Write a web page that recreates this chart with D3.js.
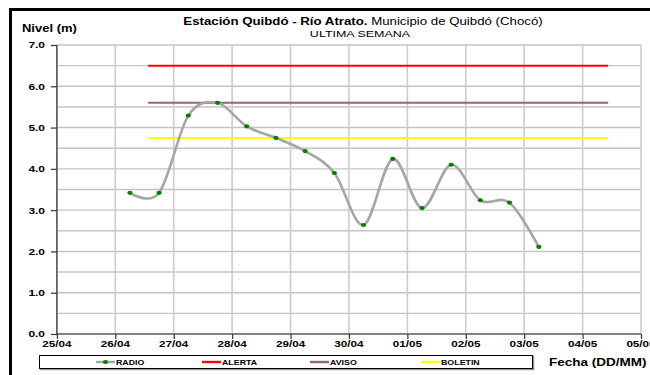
<!DOCTYPE html>
<html>
<head>
<meta charset="utf-8">
<script src="https://cdn.jsdelivr.net/npm/d3@7"></script>
<style>
  html, body { margin: 0; padding: 0; background: #fff; }
  svg { display: block; font-family: "Liberation Sans", Arial, sans-serif; }
</style>
</head>
<body>
<svg id="chart" width="650" height="375"></svg>
<script>
// River level readings (m), one every 12 hours
const fechas = [
  "26/04 06:00", "26/04 18:00", "27/04 06:00", "27/04 18:00", "28/04 06:00",
  "28/04 18:00", "29/04 06:00", "29/04 18:00", "30/04 06:00", "30/04 18:00",
  "01/05 06:00", "01/05 18:00", "02/05 06:00", "02/05 18:00", "03/05 06:00"
];
const radio = [3.42, 3.42, 5.29, 5.60, 5.03, 4.75, 4.43, 3.90, 2.64, 4.24, 3.05, 4.10, 3.24, 3.18, 2.11];

// Warning thresholds (m) and the span over which they are drawn
const umbrales = ["ALERTA", "AVISO", "BOLETIN"];
const umbralValores = [6.5, 5.6, 4.75];
const umbralColores = ["#ff0000", "#996666", "#ffff00"];
const umbralDesde = "26/04 13:30";
const umbralHasta = "04/05 10:30";

// Axis extents and tick labels
const ejeXDesde = "25/04 00:00";
const ejeXHasta = "05/05 00:00";
const ticksX = ["25/04", "26/04", "27/04", "28/04", "29/04", "30/04", "01/05", "02/05", "03/05", "04/05", "05/05"];
const ticksY = [0, 1, 2, 3, 4, 5, 6, 7];
const gridY = [0, 0.5, 1, 1.5, 2, 2.5, 3, 3.5, 4, 4.5, 5, 5.5, 6, 6.5, 7];

const titulo1 = "Estación Quibdó - Río Atrato.";
const titulo2 = " Municipio de Quibdó (Chocó)";
const subtitulo = "ULTIMA SEMANA";

const YEAR = "2014";
const parse = d3.timeParse("%d/%m/%Y %H:%M");
const toDate = s => parse(s.split(" ")[0] + "/" + YEAR + " " + s.split(" ")[1]);
const tickDate = s => parse(s + "/" + YEAR + " 00:00");

const SX = 1.3; // horizontal stretch of all lettering
const svg = d3.select("#chart");

const x = d3.scaleTime().domain([toDate(ejeXDesde), toDate(ejeXHasta)]).range([56.9, 641]);
const y = d3.scaleLinear().domain([0, 7]).range([334, 45]);

function label(g, px, py, txt, size, weight, anchor) {
  return g.append("text")
    .attr("transform", `translate(${px},${py}) scale(${SX},1)`)
    .attr("text-anchor", anchor || "middle")
    .attr("dominant-baseline", "central")
    .attr("font-size", size)
    .attr("font-weight", weight || "bold")
    .attr("fill", "#000")
    .text(txt);
}

// outer frame
svg.append("rect").attr("x", 10.5).attr("y", 9.5).attr("width", 700).attr("height", 500)
  .attr("fill", "#fff").attr("stroke", "#000").attr("stroke-width", 3);

// gridlines
const grid = svg.append("g");
grid.selectAll("line.h").data(gridY).join("line")
  .attr("x1", x.range()[0]).attr("x2", x.range()[1])
  .attr("y1", d => y(d)).attr("y2", d => y(d))
  .attr("stroke", "#c4c4c4").attr("stroke-width", 1.4);
grid.selectAll("line.v").data(ticksX).join("line")
  .attr("x1", d => x(tickDate(d))).attr("x2", d => x(tickDate(d)))
  .attr("y1", y(7)).attr("y2", y(0))
  .attr("stroke", "#cccccc").attr("stroke-width", 1.6);

// thresholds
const lineas = svg.append("g");
umbrales.forEach((u, i) => {
  lineas.append("line")
    .attr("x1", x(toDate(umbralDesde))).attr("x2", x(toDate(umbralHasta)))
    .attr("y1", y(umbralValores[i])).attr("y2", y(umbralValores[i]))
    .attr("stroke", umbralColores[i]).attr("stroke-width", 2);
});

// axes
const axY = svg.append("g").attr("transform", `translate(${x.range()[0]},0)`)
  .call(d3.axisLeft(y).tickValues(ticksY).tickSize(6).tickFormat(""));
const axX = svg.append("g").attr("transform", `translate(0,${y(0)})`)
  .call(d3.axisBottom(x).tickValues(ticksX.map(tickDate)).tickSize(5).tickFormat(""));
[axY, axX].forEach(a => {
  a.select(".domain").attr("stroke", "#333").attr("stroke-width", 1.2);
  a.selectAll(".tick line").attr("stroke", "#333").attr("stroke-width", 1.2);
});
axX.select(".domain").attr("d", `M${x.range()[0]},0H${x.range()[1]}`);
axY.select(".domain").attr("d", `M0,${y(7)}V${y(0)}`);

const txt = svg.append("g");
ticksY.forEach(v => label(txt, 45, y(v), d3.format(".1f")(v), 9.2, "bold", "end"));
ticksX.forEach(t => label(txt, x(tickDate(t)), 343.5, t, 9, "bold"));

// level series
const pts = fechas.map((f, i) => [x(toDate(f)), y(radio[i])]);
svg.append("path")
  .attr("d", d3.line().curve(d3.curveCardinal.tension(0))(pts))
  .attr("fill", "none").attr("stroke", "#a6a6a6").attr("stroke-width", 2.6);
svg.append("g").selectAll("ellipse").data(pts).join("ellipse")
  .attr("cx", d => d[0]).attr("cy", d => d[1]).attr("rx", 2.6).attr("ry", 2.1)
  .attr("fill", "#008000");

// titles
const t = svg.append("text")
  .attr("transform", `translate(363,22) scale(${SX},1)`)
  .attr("text-anchor", "middle").attr("dominant-baseline", "central")
  .attr("font-size", 10.2);
t.append("tspan").attr("font-weight", "bold").text(titulo1);
t.append("tspan").attr("font-weight", "normal").text(titulo2);
label(txt, 360, 34, subtitulo, 9.6, "normal");
label(txt, 22, 29, "Nivel (m)", 10, "bold", "start");
label(txt, 549, 362.5, "Fecha (DD/MM)", 10.4, "bold", "start");

// legend
const leg = svg.append("g");
leg.append("rect").attr("x", 40.5).attr("y", 356.5).attr("width", 493).attr("height", 13)
  .attr("fill", "none").attr("stroke", "#999").attr("stroke-width", 1.5);
leg.append("rect").attr("x", 39.5).attr("y", 355.5).attr("width", 493).attr("height", 13)
  .attr("fill", "#fff").attr("stroke", "#000").attr("stroke-width", 1);
const legNames = ["RADIO"].concat(umbrales);
const legColors = ["#a6a6a6"].concat(umbralColores);
const legX = [96, 202, 310, 421];
legNames.forEach((n, i) => {
  leg.append("line").attr("x1", legX[i]).attr("x2", legX[i] + 19)
    .attr("y1", 362).attr("y2", 362).attr("stroke", legColors[i]).attr("stroke-width", 2.4);
  if (i === 0) leg.append("ellipse").attr("cx", legX[i] + 9.5).attr("cy", 362)
    .attr("rx", 2.6).attr("ry", 2.1).attr("fill", "#008000");
  label(leg, legX[i] + 20, 362.5, n, 6.8, "bold", "start");
});
</script>
</body>
</html>
